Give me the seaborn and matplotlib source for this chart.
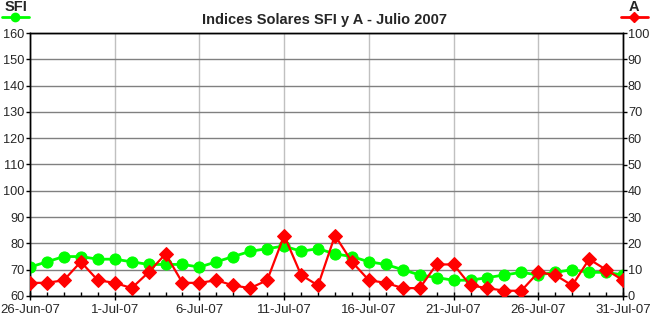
import matplotlib
matplotlib.use("Agg")
import matplotlib.pyplot as plt
import matplotlib.dates as mdates
from matplotlib.ticker import FuncFormatter, MultipleLocator
from matplotlib.lines import Line2D
import seaborn as sns
import pandas as pd

dates = pd.date_range("2007-06-26", "2007-07-31", freq="D")
sfi = [71, 73, 75, 75, 74, 74, 73, 72, 72, 72, 71, 73, 75, 77, 78, 79, 77, 78,
       76, 75, 73, 72, 70, 68, 67, 66, 66, 67, 68, 69, 68, 69, 70, 69, 69, 68]
a_index = [5, 5, 6, 13, 6, 5, 3, 9, 16, 5, 5, 6, 4, 3, 6, 23, 8, 4,
           23, 13, 6, 5, 3, 3, 12, 12, 4, 3, 2, 2, 9, 8, 4, 14, 10, 6]
title = "Indices Solares SFI y A - Julio 2007"

df = pd.DataFrame({"date": dates, "SFI": sfi, "A": a_index})

sns.set_theme(style="white")
plt.rcParams["font.family"] = ["Liberation Sans", "DejaVu Sans"]

fig = plt.figure(figsize=(6.5, 3.22), dpi=100)
ax = fig.add_axes([30/650, 1-296/322, (623-30)/650, (296-33)/322])
ax2 = ax.twinx()

green = "#00FF00"
red = "#FF0000"

sns.lineplot(data=df, x="date", y="SFI", ax=ax, color=green, lw=2,
             marker="o", markersize=8, markeredgecolor=green, zorder=3)
sns.lineplot(data=df, x="date", y="A", ax=ax2, color=red, lw=1.6,
             marker="D", markersize=7, markeredgecolor=red, zorder=4)

ax.set_ylim(60, 160)
ax2.set_ylim(0, 100)
ax.set_xlim(dates[0], dates[-1])
ax.yaxis.set_major_locator(MultipleLocator(10))
ax2.yaxis.set_major_locator(MultipleLocator(10))

ax.xaxis.set_major_locator(mdates.DayLocator(bymonthday=[1, 6, 11, 16, 21, 26, 31]))
ax.xaxis.set_minor_locator(mdates.DayLocator())

def fmt(x, pos):
    d = mdates.num2date(x)
    return f"{d.day}-{d.strftime('%b')}-{d.strftime('%y')}"
ax.xaxis.set_major_formatter(FuncFormatter(fmt))

ax.grid(False)
ax2.grid(False)
ax.yaxis.grid(True, color="#808080", lw=1)
ax.xaxis.grid(True, which="major", color="#C0C0C0", lw=1)
ax.set_axisbelow(True)

for a in (ax, ax2):
    for s in a.spines.values():
        s.set_color("black")
        s.set_linewidth(1)

ax.set_xlabel("")
ax.set_ylabel("")
ax2.set_ylabel("")
ax.tick_params(axis="y", direction="out", length=3, width=1, color="black",
               labelsize=9.2, pad=1, left=True)
ax2.tick_params(axis="y", direction="out", length=3, width=1, color="black",
                labelsize=9.2, pad=0.5, right=True)
ax.tick_params(axis="x", which="major", direction="inout", length=6, width=1,
               color="black", labelsize=9.5, pad=3, bottom=True)
ax.tick_params(axis="x", which="minor", direction="in", length=3, width=1,
               color="black", bottom=True)

fig.text(325/650, 1-20/322, title, ha="center", va="center",
         fontsize=10.5, fontweight="bold")

# series labels in the corners
fig.text(16/650, 1-7/322, "SFI", ha="center", va="center", fontsize=10.5, fontweight="bold")
fig.lines.append(Line2D([2/650, 29/650], [1-17/322, 1-17/322], transform=fig.transFigure,
                        color=green, lw=2, marker=None))
fig.lines.append(Line2D([15/650], [1-17/322], transform=fig.transFigure,
                        color=green, marker="o", markersize=6, markeredgecolor=green))
fig.text(634/650, 1-7/322, "A", ha="center", va="center", fontsize=10.5, fontweight="bold")
fig.lines.append(Line2D([621/650, 648/650], [1-17/322, 1-17/322], transform=fig.transFigure,
                        color=red, lw=2))
fig.lines.append(Line2D([634/650], [1-17/322], transform=fig.transFigure,
                        color=red, marker="D", markersize=5, markeredgecolor=red))

fig.savefig("out.png", dpi=100)
